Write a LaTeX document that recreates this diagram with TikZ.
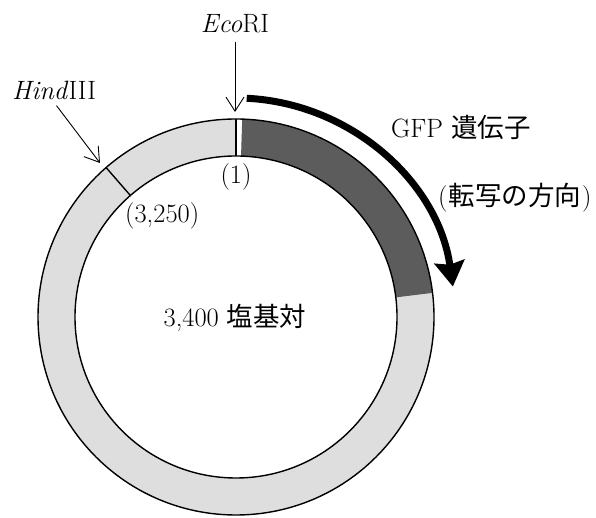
\documentclass[tikz,border=0pt]{standalone}
\usepackage{fontspec}
\newfontfamily\cjk{Noto Sans CJK JP}
\usetikzlibrary{arrows.meta,calc}
\definecolor{ringlight}{gray}{0.87}
\definecolor{ringdark}{gray}{0.36}
\tikzset{
  lbl/.style={inner sep=2pt, font=\fontsize{26.5}{30}\selectfont},
  ringline/.style={line width=1.4pt},
  thinarrow/.style={line width=0.9pt, -{Straight Barb[length=14pt,width=18pt,line width=0.9pt]}},
  genearrow/.style={line width=7pt, -{Stealth[length=25pt,width=30pt,inset=3pt]}},
}
\begin{document}
\begin{tikzpicture}[x=1pt,y=1pt]
\useasboundingbox (0,0) rectangle (596,518);
\coordinate (C) at (236,201);
% ring body
\fill[ringlight, even odd rule] (C) circle[radius=198pt] (C) circle[radius=161pt];
% white strip at EcoRI
\fill[white] ($(C)+(90:198pt)$) arc[start angle=90,end angle=88.2,radius=198pt]
   -- ($(C)+(88.2:161pt)$) arc[start angle=88.2,end angle=90,radius=161pt] -- cycle;
% GFP gene (dark)
\fill[ringdark] ($(C)+(88.2:198pt)$) arc[start angle=88.2,end angle=7,radius=198pt]
   -- ($(C)+(7:161pt)$) arc[start angle=7,end angle=88.2,radius=161pt] -- cycle;
% outlines
\draw[ringline] (C) circle[radius=198pt];
\draw[ringline] (C) circle[radius=161pt];
\draw[ringline] ($(C)+(90:161pt)$) -- ($(C)+(90:198pt)$);
\draw[ringline] ($(C)+(131:161pt)$) -- ($(C)+(131:198pt)$);
% transcription arrow
\draw[genearrow] ($(C)+(87.2:219pt)$) arc[start angle=87.2,end angle=8,radius=219pt];
% labels
\node[lbl, anchor=base] (eco) at (235,485) {\textit{Eco}RI};
\node[lbl, anchor=base west] (hind) at (10,418) {\textit{Hind}III};
\node[lbl, anchor=base] (one) at (236,334) {(1)};
\node[lbl, anchor=base west] (pos) at (123,295) {(3,250)};
\node[lbl, anchor=base] (size) at (235,191) {3,400 {\cjk 塩基対}};
\node[lbl, anchor=base west] (gfp) at (389,380) {GFP {\cjk 遺伝子}};
\node[lbl, anchor=base west] (dir) at (436,312) {(\kern1pt{\cjk 転写の方向}\kern1pt)};
% site arrows
\coordinate (ecotip) at (235,406);
\coordinate (hindtip) at (100,355);
\draw[thinarrow, shorten <=6pt] (eco.south) -- (ecotip);
\draw[thinarrow, shorten <=4pt] (hind.south) -- (hindtip);
\end{tikzpicture}
\end{document}
